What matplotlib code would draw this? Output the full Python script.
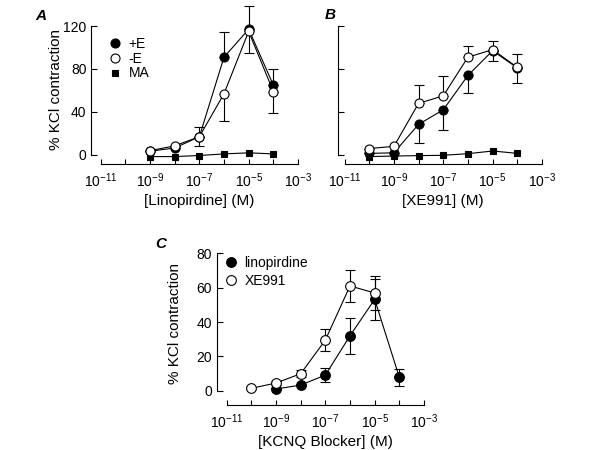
import matplotlib
matplotlib.use("Agg")
import matplotlib.pyplot as plt
from matplotlib.lines import Line2D

plt.rcParams['font.family'] = ['Liberation Sans', 'DejaVu Sans']
plt.rcParams['mathtext.fontset'] = 'custom'
plt.rcParams['mathtext.rm'] = 'Liberation Sans'
plt.rcParams['mathtext.it'] = 'Liberation Sans:italic'
plt.rcParams['mathtext.bf'] = 'Liberation Sans:bold'

# ---------------- Data ----------------
# Panel A: linopirdine
a_conc = [1e-9, 1e-8, 1e-7, 1e-6, 1e-5, 1e-4]
a_plusE = [3.5, 6.5, 17, 91, 117, 65]
a_plusE_err_up = [0, 2, 9, 23, 22, 15]
a_minusE = [4, 8.5, 17, 57, 115, 59]
a_minusE_err_down = [0, 0, 8.5, 25, 20, 20]
a_MA = [-1.5, -1.5, -0.5, 1, 2, 1]

# Panel B: XE991
b_conc = [1e-10, 1e-9, 1e-8, 1e-7, 1e-6, 1e-5, 1e-4]
b_minusE = [6, 8, 48, 55, 91, 98, 81.5]
b_minusE_err_up = [0, 0, 17, 18.5, 10, 8, 12.5]
b_plusE = [1.5, 2, 28.5, 42, 74, 97, 81]
b_plusE_err_down = [0, 0, 17.5, 19, 16, 10, 14]
b_MA = [-1.5, -1, -0.6, -0.3, 1.2, 3.7, 1.5]

# Panel C: KCNQ blockers
c_lin_conc = [1e-9, 1e-8, 1e-7, 1e-6, 1e-5, 1e-4]
c_lin = [1, 3.3, 9.1, 32, 53.2, 7.8]
c_lin_err = [0.5, 0.8, 4.3, 10.5, 12, 4.8]
c_xe_conc = [1e-10, 1e-9, 1e-8, 1e-7, 1e-6, 1e-5]
c_xe = [1.4, 4.5, 9.9, 29.5, 61, 56.9]
c_xe_err = [0.5, 1, 2, 6.4, 9.5, 10]

x_tick_exps = [-11, -10, -9, -8, -7, -6, -5, -4, -3]
ab_yticks = [0, 40, 80, 120]
c_yticks = [0, 20, 40, 60, 80]

# ---------------- Figure ----------------
W, H = 600, 450
fig = plt.figure(figsize=(6, 4.5), dpi=100)


def px_axes(left, right, top, bottom):
    return fig.add_axes([left / W, 1 - bottom / H, (right - left) / W, (bottom - top) / H])


LW = 0.8
FS_TICK = 10
FS_LAB = 11


def style_axes(ax, ylim, yticks, show_ylabels, left_offset_px):
    ax.set_xscale('log')
    ax.set_xlim(1e-11, 1e-3)
    ax.set_ylim(*ylim)
    for s in ['top', 'right']:
        ax.spines[s].set_visible(False)
    ax.spines['left'].set_position(('outward', left_offset_px * 0.72))
    ax.spines['left'].set_bounds(yticks[0], yticks[-1])
    ax.spines['left'].set_linewidth(LW)
    ax.spines['bottom'].set_linewidth(LW)
    ax.set_yticks(yticks)
    if not show_ylabels:
        ax.set_yticklabels([])
    ticks = [10.0 ** e for e in x_tick_exps]
    labels = [r'$\mathregular{10^{%d}}$' % e if e % 2 else '' for e in x_tick_exps]
    ax.set_xticks(ticks)
    ax.set_xticklabels(labels)
    ax.xaxis.set_minor_locator(matplotlib.ticker.NullLocator())
    ax.tick_params(axis='x', direction='in', length=3.6, width=LW, pad=5.5, labelsize=FS_TICK)
    ax.tick_params(axis='y', direction='in', length=4.3, width=LW, pad=3.5, labelsize=FS_TICK)
    ax.patch.set_visible(False)


def series(ax, x, y, marker, face, ms, err=None, z=3):
    if err is not None:
        ax.errorbar(x, y, yerr=err, fmt='none', ecolor='black', elinewidth=LW,
                    capsize=3.5, capthick=LW, clip_on=False, zorder=z - 0.5)
    ax.plot(x, y, color='black', lw=LW, marker=marker, ms=ms, mfc=face, mec='black',
            mew=LW, clip_on=False, zorder=z)


# Panel A
axA = px_axes(100.7, 298, 26, 164)
style_axes(axA, (-8.4, 120), ab_yticks, True, 9.4)
series(axA, a_conc, a_MA, 's', 'black', 5, z=3)
series(axA, a_conc, a_plusE, 'o', 'black', 6.5, err=[[0] * 6, a_plusE_err_up], z=4)
series(axA, a_conc, a_minusE, 'o', 'white', 6.5, err=[a_minusE_err_down, [0] * 6], z=5)
axA.set_xlabel('[Linopirdine] (M)', fontsize=FS_LAB, labelpad=2.5)
axA.set_ylabel('% KCl contraction', fontsize=FS_LAB)
axA.yaxis.set_label_coords(-0.19, 0.539)
hA = [Line2D([], [], ls='none', marker='o', ms=6.5, mfc='black', mec='black', mew=LW),
      Line2D([], [], ls='none', marker='o', ms=6.5, mfc='white', mec='black', mew=LW),
      Line2D([], [], ls='none', marker='s', ms=5, mfc='black', mec='black', mew=LW)]
axA.legend(hA, ['+E', '-E', 'MA'], loc='upper left', bbox_to_anchor=(0.025, 0.94),
           frameon=False, fontsize=10, handlelength=1.0, handletextpad=0.45,
           labelspacing=0.05, borderaxespad=0, borderpad=0.2)
fig.text(35 / W, 1 - 20 / H, 'A', fontsize=11, fontweight='bold', fontstyle='italic')

# Panel B
axB = px_axes(344.5, 542, 26, 164)
style_axes(axB, (-8.4, 120), ab_yticks, False, 7)
series(axB, b_conc, b_MA, 's', 'black', 5, z=3)
series(axB, b_conc, b_plusE, 'o', 'black', 6.5, err=[b_plusE_err_down, [0] * 7], z=4)
series(axB, b_conc, b_minusE, 'o', 'white', 6.5, err=[[0] * 7, b_minusE_err_up], z=5)
axB.set_xlabel('[XE991] (M)', fontsize=FS_LAB, labelpad=2.5)
fig.text(325 / W, 1 - 19 / H, 'B', fontsize=11, fontweight='bold', fontstyle='italic')

# Panel C
axC = px_axes(226.7, 424, 253.3, 405)
style_axes(axC, (-8.3, 80), c_yticks, True, 10)
series(axC, c_lin_conc, c_lin, 'o', 'black', 7, err=c_lin_err, z=4)
series(axC, c_xe_conc, c_xe, 'o', 'white', 7, err=c_xe_err, z=5)
axC.set_xlabel('[KCNQ Blocker] (M)', fontsize=FS_LAB, labelpad=2.5)
axC.set_ylabel('% KCl contraction', fontsize=FS_LAB)
axC.yaxis.set_label_coords(-0.225, 0.539)
hC = [Line2D([], [], ls='none', marker='o', ms=7, mfc='black', mec='black', mew=LW),
      Line2D([], [], ls='none', marker='o', ms=7, mfc='white', mec='black', mew=LW)]
axC.legend(hC, ['linopirdine', 'XE991'], loc='upper left', bbox_to_anchor=(-0.03, 1.0),
           frameon=False, fontsize=10, handlelength=1.0, handletextpad=0.5,
           labelspacing=0.25, borderaxespad=0, borderpad=0.2)
fig.text(155 / W, 1 - 248 / H, 'C', fontsize=11, fontweight='bold', fontstyle='italic')

fig.savefig('out.png', dpi=100)
